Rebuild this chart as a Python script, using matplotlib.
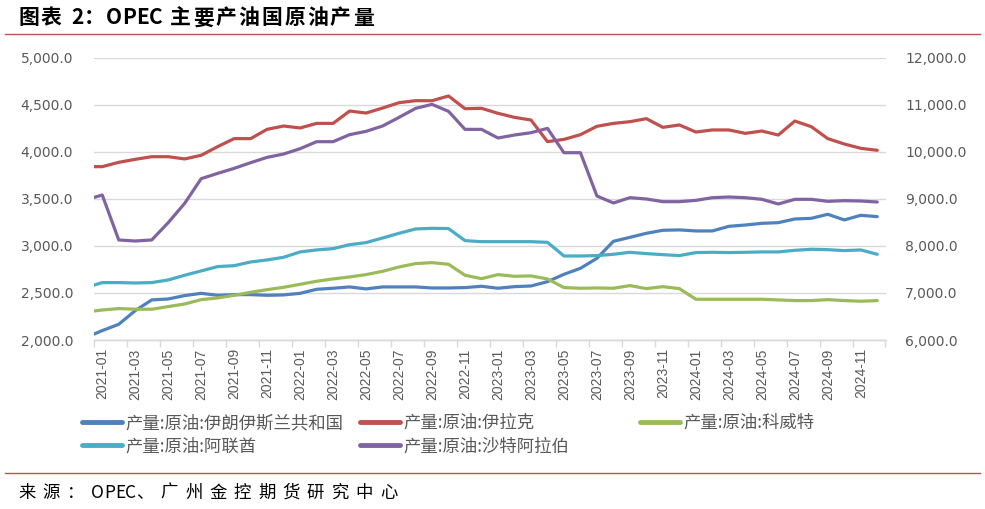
import matplotlib
matplotlib.use("Agg")
import matplotlib.pyplot as plt
from matplotlib.lines import Line2D

plt.rcParams['font.family'] = ['Noto Sans CJK SC', 'DejaVu Sans']

# months: 2020-12 is only partly visible at the left edge (clipped)
months = ["2020-12"] + [f"{y}-{m:02d}" for y in range(2021, 2025) for m in range(1, 13)]

# crude oil production, kb/d
iran = [2026,
        2100, 2167, 2312, 2426, 2436, 2472, 2496, 2475, 2482, 2482,
        2475, 2479, 2496, 2539, 2550, 2564, 2543, 2564, 2564, 2564,
        2553, 2553, 2557, 2571, 2550, 2567, 2574, 2620, 2698, 2762,
        2868, 3049, 3091, 3134, 3166, 3170, 3159, 3159, 3208, 3222,
        3240, 3247, 3286, 3293, 3336, 3276, 3325, 3311]
iraq = [3842,
        3842, 3888, 3920, 3948, 3948, 3924, 3963, 4055, 4140, 4140,
        4239, 4274, 4253, 4302, 4302, 4433, 4412, 4465, 4522, 4543,
        4543, 4593, 4458, 4462, 4409, 4366, 4338, 4108, 4132, 4182,
        4271, 4302, 4320, 4352, 4260, 4285, 4210, 4232, 4232, 4196,
        4221, 4178, 4327, 4267, 4140, 4083, 4037, 4016]
kuwait = [2298,
          2319, 2334, 2327, 2327, 2355, 2383, 2429, 2447, 2475, 2507,
          2535, 2560, 2592, 2624, 2649, 2670, 2695, 2730, 2776, 2812,
          2822, 2805, 2688, 2652, 2695, 2677, 2681, 2649, 2557, 2550,
          2553, 2550, 2578, 2546, 2567, 2546, 2433, 2433, 2433, 2433,
          2433, 2426, 2419, 2419, 2429, 2419, 2412, 2419]
uae = [2557,
       2610, 2610, 2606, 2610, 2638, 2688, 2734, 2780, 2790, 2829,
       2851, 2879, 2936, 2957, 2971, 3013, 3035, 3084, 3134, 3180,
       3187, 3184, 3056, 3045, 3045, 3045, 3045, 3038, 2893, 2893,
       2897, 2911, 2932, 2918, 2907, 2897, 2929, 2932, 2929, 2932,
       2936, 2936, 2953, 2964, 2960, 2950, 2957, 2911]
# Saudi Arabia on the right axis
saudi = [8978,
         9082, 8126, 8104, 8126, 8494, 8905, 9429, 9542, 9648, 9769,
         9882, 9953, 10066, 10215, 10215, 10364, 10435, 10548, 10732, 10923,
         11008, 10860, 10477, 10477, 10293, 10357, 10406, 10498, 9981, 9981,
         9061, 8912, 9025, 8997, 8940, 8940, 8968, 9025, 9039, 9025,
         8990, 8891, 8990, 8990, 8947, 8961, 8954, 8933]

labels = {
    "iran": "产量:原油:伊朗伊斯兰共和国",
    "iraq": "产量:原油:伊拉克",
    "kuwait": "产量:原油:科威特",
    "uae": "产量:原油:阿联酋",
    "saudi": "产量:原油:沙特阿拉伯",
}
colors = {"iran": "#4F81BD", "iraq": "#C0504D", "kuwait": "#9BBB59",
          "uae": "#4BACC6", "saudi": "#8064A2"}

gray = "#595959"
W, H = 985, 509
x = list(range(-1, len(months) - 1))

fig = plt.figure(figsize=(W / 100, H / 100), dpi=100)
ax = fig.add_axes([94 / W, 1 - 340 / H, (885.5 - 94) / W, (340 - 57.7) / H])
ax2 = ax.twinx()

style = dict(lw=2.3, solid_capstyle="round", solid_joinstyle="round")
ax.plot(x, iran, color=colors["iran"], **style)
ax.plot(x, iraq, color=colors["iraq"], **style)
ax.plot(x, kuwait, color=colors["kuwait"], **style)
ax.plot(x, uae, color=colors["uae"], **style)
ax2.plot(x, saudi, color=colors["saudi"], **style)

ax.set_xlim(-0.5, 47.5)
ax.set_ylim(2000, 5000)
ax2.set_ylim(6000, 12000)
ax.set_yticks(range(2000, 5001, 500))
ax2.set_yticks(range(6000, 12001, 1000))
fmt = matplotlib.ticker.FuncFormatter(lambda v, p: f"{v:,.1f}")
ax.yaxis.set_major_formatter(fmt)
ax2.yaxis.set_major_formatter(fmt)

ax.grid(axis="y", color="#D9D9D9", lw=1)
ax.set_axisbelow(True)
for a in (ax, ax2):
    for s in ("top", "left", "right"):
        a.spines[s].set_visible(False)
    a.spines["bottom"].set_color("#D9D9D9")
    a.spines["bottom"].set_linewidth(1)

ax.tick_params(axis="y", length=0, pad=15, labelsize=10, labelcolor=gray)
ax2.tick_params(axis="y", length=0, pad=14, labelsize=10, labelcolor=gray)
for t in ax.get_yticklabels() + ax2.get_yticklabels():
    t.set_fontfamily(["DejaVu Sans"])

# x labels every two months, tick marks between categories
ax.set_xticks(list(range(0, 48, 2)))
ax.set_xticklabels(months[1::2], rotation=90, fontsize=10, color=gray,
                   fontfamily=["Liberation Sans", "DejaVu Sans"])
ax.set_xticks([p - 0.5 for p in range(0, 49, 2)], minor=True)
ax.tick_params(axis="x", which="major", length=0, pad=6)
ax.tick_params(axis="x", which="minor", length=5, color="#D9D9D9", width=1)


def spaced_text(x_px, y_px, s, size, track, **kw):
    # draws a string char by char, adding extra spacing after CJK glyphs
    renderer = fig.canvas.get_renderer()
    xp = x_px
    for ch in s:
        if ch == " ":
            xp += size * 0.35 * 100 / 72
            continue
        t = fig.text(xp / W, 1 - y_px / H, ch, fontsize=size, va="center", ha="left", **kw)
        xp += t.get_window_extent(renderer).width
        if ord(ch) > 127:
            xp += track


# title and source with red rules
spaced_text(18, 18, "图表 2：OPEC 主要产油国原油产量", 15, 2, fontweight="bold")
fig.add_artist(Line2D([5 / W, 980 / W], [1 - 34 / H] * 2, color="#C0504D", lw=1))
fig.add_artist(Line2D([5 / W, 980 / W], [1 - 473 / H] * 2, color="#C0504D", lw=1))
spaced_text(18, 493, "来源：OPEC、广州金控期货研究中心", 12.5, 7)

# legend, placed column by column like the Excel one
cols = [(82, ["iran", "uae"]), (360, ["iraq", "saudi"]), (640, ["kuwait"])]
for xpos, keys in cols:
    handles = [Line2D([], [], color=colors[k], lw=3.5, solid_capstyle="round") for k in keys]
    fig.legend(handles, [labels[k] for k in keys], loc="upper left",
               bbox_to_anchor=(xpos / W, 1 - 414 / H), frameon=False,
               fontsize=12.5, labelcolor=gray, handlelength=2.3, handletextpad=0.2,
               labelspacing=0.3, borderpad=0, borderaxespad=0)

fig.savefig("out.png", dpi=100)
